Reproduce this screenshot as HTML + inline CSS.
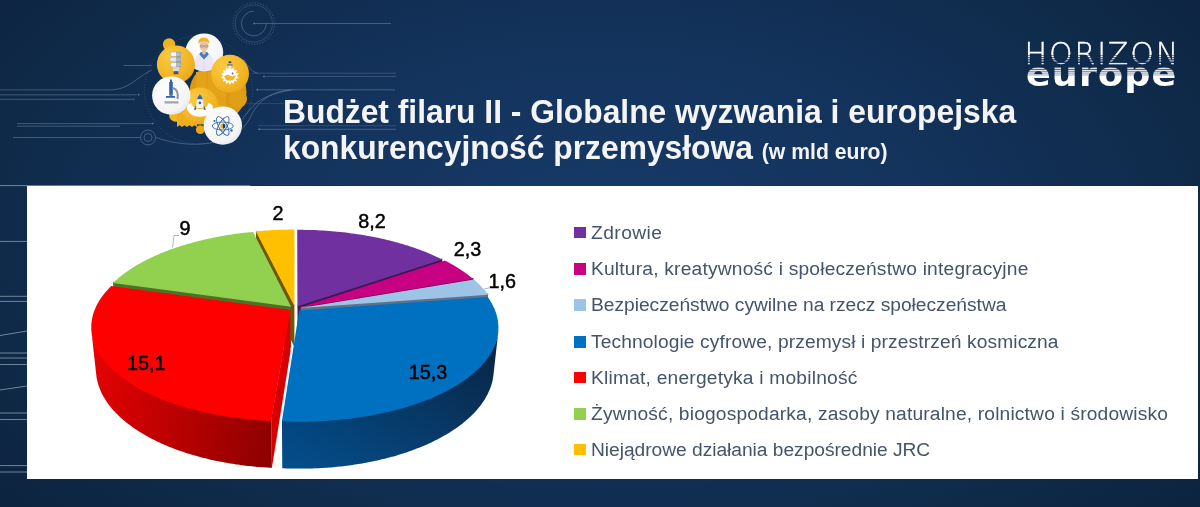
<!DOCTYPE html>
<html lang="pl"><head><meta charset="utf-8"><title>Budżet filaru II</title>
<style>
html,body{margin:0;padding:0}
body{width:1200px;height:507px;overflow:hidden;position:relative;background:#0e2a4c;font-family:"Liberation Sans",sans-serif}
#bg{position:absolute;left:0;top:0;width:1200px;height:507px;background:radial-gradient(ellipse 760px 420px at 600px 230px,#173a68 0%,#13335c 45%,#0f2a49 80%,#0d2440 100%)}
#panel{position:absolute;left:27px;top:186px;width:1171px;height:293px;background:#fff}
h1{position:absolute;left:283.1px;top:94.2px;margin:0;font-size:33.8px;line-height:35.4px;transform:scaleX(0.9406);transform-origin:0 0;font-weight:bold;color:#f4f4f4;white-space:nowrap;letter-spacing:0}
h1 small{font-size:22.5px}
.sq{position:absolute;left:573.8px;width:12.1px;height:11.8px}
.lg{position:absolute;left:591px;font-size:19.2px;line-height:20px;color:#44546A;white-space:nowrap}
svg{position:absolute;left:0;top:0}
#hz{position:absolute;left:1024.6px;top:36px;font-family:"DejaVu Sans Light","DejaVu Sans","Liberation Sans",sans-serif;font-weight:200;font-size:30px;line-height:36px;color:#fff;-webkit-text-stroke:0.35px #fff;letter-spacing:1.85px;white-space:nowrap}
#eu{position:absolute;left:1026px;top:52px;transform:scaleY(0.94);transform-origin:0 34px;font-family:"DejaVu Sans","Liberation Sans",sans-serif;font-weight:bold;font-size:36.5px;line-height:44px;color:#fff;letter-spacing:1.1px;white-space:nowrap}
#lab text{font-family:"Liberation Sans",sans-serif;font-size:19.8px;fill:#000;stroke:#000;stroke-width:0.45px}
</style></head><body>
<div id="bg"></div>
<svg id="decor" width="1200" height="507" viewBox="0 0 1200 507">
<defs><radialGradient id="gold" cx="0.35" cy="0.3" r="0.9"><stop offset="0" stop-color="#fbca42"/><stop offset="0.6" stop-color="#f2b424"/><stop offset="1" stop-color="#e49f14"/></radialGradient><radialGradient id="wht" cx="0.4" cy="0.35" r="0.8"><stop offset="0" stop-color="#ffffff"/><stop offset="0.7" stop-color="#f4f4f6"/><stop offset="1" stop-color="#d8dae0"/></radialGradient></defs>
<g fill="none" stroke="#b9c7dc" stroke-width="0.7" opacity="0.43">
<line x1="253.500" y1="23.500" x2="391" y2="23.500"/>
<line x1="252.500" y1="73.200" x2="396" y2="73.200" opacity="0.700"/>
<line x1="263.500" y1="76.500" x2="396" y2="76.500" opacity="0.700"/>
<line x1="256.600" y1="89.800" x2="395" y2="89.800"/>
<line x1="246" y1="103.600" x2="284" y2="103.600" opacity="0.500"/>
<line x1="258" y1="125.700" x2="396" y2="125.700" opacity="0.600"/>
<line x1="258" y1="129.300" x2="396" y2="129.300"/>
<line x1="123.6" y1="65.5" x2="151.7" y2="65.5"/>
<path d="M0,89.9 H112 C130,89 138,76 152,70"/>
<line x1="0" y1="94.8" x2="137" y2="94.8" opacity="1.5"/>
<line x1="0" y1="99.3" x2="135" y2="99.3"/>
<line x1="17" y1="123.6" x2="153.6" y2="123.6"/>
<line x1="17" y1="126.2" x2="120" y2="126.2"/>
<line x1="13" y1="137.5" x2="140.4" y2="137.5"/>
<path d="M156,137.500 C190,150 236,146 250,118 C256,104 268,92 290,89.900"/>
<path d="M240,121.500 C250,112 252,96 292.500,89.800"/>
<path d="M244,60 C249,67 252,72.500 258,73.200"/>
<circle cx="253.800" cy="23.500" r="20.700" stroke-dasharray="1.2 1.6"/><circle cx="253.800" cy="23.500" r="18.600" opacity="0.600"/>
<path d="M253.800,11.100 a12.400,12.400 0 1 0 12.400,12.400"/>
<circle cx="148" cy="137.500" r="7.500"/>
<circle cx="148" cy="137.500" r="4"/>
<circle cx="198.500" cy="90" r="54" stroke-dasharray="1 2" opacity="0.7"/>
<path d="M138,93.600 l2,1.200 -2,1.200z M152,122.400 l2,1.200 -2,1.200z M255,22.300 l-2,1.200 2,1.200z M264.500,75.300 l-2,1.200 2,1.200z M258,88.600 l-2,1.200 2,1.200z M260,128.100 l-2,1.200 2,1.200z" fill="#b9c7dc" stroke="none"/>
</g>
<g fill="none" stroke="#c5d0e0" stroke-width="0.9" opacity="0.6">
<line x1="0" y1="241.4" x2="27" y2="241.4"/>
<line x1="0" y1="296.3" x2="27" y2="296.3"/>
<line x1="0" y1="301.4" x2="27" y2="301.4"/>
<line x1="0" y1="335.5" x2="27" y2="331.0"/>
<line x1="0" y1="353.0" x2="27" y2="353.0"/>
<line x1="0" y1="358.0" x2="27" y2="358.0"/>
<line x1="0" y1="364.5" x2="27" y2="364.5"/>
<line x1="0" y1="390.0" x2="27" y2="386.0"/>
<line x1="0" y1="413.0" x2="27" y2="413.0"/>
<line x1="0" y1="419.5" x2="27" y2="419.5"/>
<line x1="0" y1="465.6" x2="27" y2="465.6"/>
<line x1="0" y1="472.0" x2="27" y2="472.0"/>
<line x1="0" y1="185.6" x2="250" y2="185.6"/>
</g>
<g>
<circle cx="218" cy="92" r="28.500" fill="#dd9912"/>
<circle cx="238" cy="99" r="9" fill="#e0a016"/>
<path d="M196,72 h30 v40 h-30z" fill="#e3a218"/>
<path d="M207,70 v38" stroke="#c98a0c" stroke-width="0.600" opacity="0.500"/>
<circle cx="169.100" cy="44.500" r="6.200" fill="#f0b222"/>
<circle cx="175.900" cy="114.900" r="6.800" fill="#f2b524"/>
<path d="M177,112 h20 v15 l-2.500,-1.800 -2.500,1.800 -2.500,-1.800 -2.500,1.800 -2.500,-1.800 -2.500,1.800 -2.500,-1.800 -2.500,1.800z" fill="#eeae1e"/>
<circle cx="200.300" cy="129.700" r="4.400" fill="#e9a818"/>
<circle cx="204.200" cy="52.400" r="19" fill="url(#wht)"/>
<clipPath id="csci"><circle cx="204.200" cy="52.400" r="18.600"/></clipPath>
<g clip-path="url(#csci)">
<path d="M194,72 q-0.500,-15 4.500,-17.500 l5.500,-1.500 5.500,1.500 q5,2.500 4.500,17.500z" fill="#ece6f4"/>
<path d="M204,54 v18" stroke="#d9d2e6" stroke-width="0.600"/>
<path d="M199.200,54.300 l4.800,5.200 4.800,-5.200 -1.600,-2.300 h-6.400z" fill="#3f7ccb"/>
<path d="M202.200,49 h3.600 v4.500 l-1.800,1.500 -1.800,-1.500z" fill="#e8bd98"/>
<ellipse cx="204" cy="45.800" rx="4.500" ry="5.400" fill="#eec6a4"/>
<path d="M198.300,44.300 q-0.800,-6.600 5.200,-6.900 q5.800,0 5.800,6.400 q-2.600,-3.300 -6.600,-2.600 q-3,0.500 -4.400,3.100z" fill="#f0b323"/>
<path d="M200,46 h8.200" stroke="#8a8f9c" stroke-width="0.700"/><circle cx="202" cy="46.300" r="1.500" fill="none" stroke="#8a8f9c" stroke-width="0.500"/><circle cx="206.200" cy="46.300" r="1.500" fill="none" stroke="#8a8f9c" stroke-width="0.500"/>
</g>
<circle cx="175.9" cy="64.4" r="19" fill="url(#gold)"/>
<circle cx="230" cy="73.800" r="19" fill="url(#gold)"/>
<circle cx="199.9" cy="106.1" r="18.5" fill="url(#gold)"/>
<circle cx="171.3" cy="95.6" r="19.2" fill="url(#wht)"/>
<circle cx="222.8" cy="125.6" r="19.2" fill="url(#wht)"/>
<g stroke="#8b95a0" stroke-width="0.400"><rect x="170.200" y="52" width="11" height="4.600" rx="2.300" fill="#f4f5f6"/><rect x="169.600" y="57.200" width="12" height="4.600" rx="2.300" fill="#e6e8ea"/><rect x="170.200" y="62.400" width="11" height="4.600" rx="2.300" fill="#f4f5f6"/></g>
<rect x="176" y="52" width="5" height="15" fill="#7e8994" opacity="0.550"/>
<rect x="173" y="67.200" width="6" height="4" fill="#d5d8dc"/><rect x="173.600" y="71.200" width="4.800" height="3" fill="#4a5560"/>
<polygon points="229.9,66.7 231.4,69.3 233.8,67.6 234.1,70.6 237.0,70.1 235.9,72.9 238.8,73.8 236.6,75.8 238.8,77.8 235.9,78.7 237.0,81.5 234.1,81.0 233.8,84.0 231.4,82.3 229.9,84.9 228.4,82.3 226.0,84.0 225.7,81.0 222.8,81.5 223.9,78.7 221.0,77.8 223.2,75.8 221.0,73.8 223.9,72.9 222.8,70.1 225.7,70.6 226.0,67.6 228.4,69.3" fill="#ffffff"/>
<rect x="228.500" y="64.800" width="2.800" height="4.500" fill="#e6e9ee"/><rect x="227.300" y="64.300" width="5.200" height="1.300" fill="#5c6f8c"/><ellipse cx="229.900" cy="62.300" rx="1.600" ry="1" fill="#2c456e"/>
<path d="M224.300,76.200 q2.500,-2.600 5.600,-0.800 q3,1.700 5.800,-0.300 q-0.500,5.600 -5.800,5.700 q-5.200,-0.100 -5.600,-4.600z" fill="#f4b624"/>
<circle cx="232.600" cy="73.600" r="1" fill="#3d6fb6"/>
<g><rect x="169.200" y="82" width="3.600" height="13" fill="#2f66ae"/><rect x="170" y="79.500" width="2" height="3" fill="#2f66ae"/><path d="M173,88 q6,2 4.500,11" fill="none" stroke="#8d98a6" stroke-width="2"/><rect x="166" y="96" width="9" height="1.800" fill="#2f66ae"/><path d="M164.500,103.500 h14 v-2.200 h-14z" fill="#9aa3ae"/><rect x="169.500" y="94" width="3" height="2" fill="#6d7885"/></g>
<g transform="translate(199.9,106.1) scale(1.25) translate(-202,-106.5)"><path d="M192,110 q-1.500,-5 3,-6 q2,5 7,5 q5,0 7,-5 q4.500,1 3,6 q-3,5 -10,5 q-7,0 -10,-5z" fill="#fff"/><path d="M202,97 q3.200,3.500 3,11 h-6 q-0.200,-7.500 3,-11z" fill="#f2f4f8"/><path d="M202,97 q1.600,1.600 2.300,4 h-4.600 q0.700,-2.400 2.300,-4z" fill="#2f66ae"/><circle cx="202" cy="104" r="1.100" fill="#2f66ae"/><path d="M199,106 l-2,3.500 h2z M205,106 l2,3.500 h-2z" fill="#2f66ae"/></g>
<g fill="none" stroke="#2f66ae" stroke-width="0.9"><ellipse cx="222.8" cy="126" rx="10.500" ry="4"/><ellipse cx="222.8" cy="126" rx="10.500" ry="4" transform="rotate(60 222.8 126)"/><ellipse cx="222.8" cy="126" rx="10.500" ry="4" transform="rotate(-60 222.8 126)"/></g>
<circle cx="222.8" cy="126" r="2.600" fill="#f3b521"/><path d="M222.8,123.400 a2.600,2.600 0 0 1 0,5.200z" fill="#1f3e6e"/>
<circle cx="231.500" cy="130.500" r="1.200" fill="#2f66ae"/><circle cx="214.500" cy="121" r="1.100" fill="#2f66ae"/>
</g>
</svg>
<div id="panel"></div>
<h1>Budżet filaru II - Globalne wyzwania i europejska<br>konkurencyjność przemysłowa <small>(w mld euro)</small></h1>
<svg id="pie" width="1200" height="507" viewBox="0 0 1200 507">
<linearGradient id="vshade3" x1="0" y1="0" x2="0" y2="1"><stop offset="0" stop-color="#000" stop-opacity="0.16"/><stop offset="1" stop-color="#1080e0" stop-opacity="0.18"/></linearGradient><linearGradient id="vshade4" x1="0" y1="0" x2="0" y2="1"><stop offset="0" stop-color="#ff2020" stop-opacity="0.12"/><stop offset="1" stop-color="#000" stop-opacity="0.06"/></linearGradient>
<polygon points="294.4,304.7 255.9,230.2 256.6,267.9 294.4,347.0" fill="#6f5800"/>
<polygon points="294.4,304.7 294.5,228.5 294.5,266.0 294.4,347.0" fill="#8c6a00"/>
<polygon points="294.4,306.0 255.9,231.4 258.8,231.1 261.8,230.9 264.7,230.6 267.7,230.4 270.6,230.2 273.6,230.1 276.6,229.9 279.6,229.8 282.5,229.7 285.5,229.7 288.5,229.6 291.5,229.6 294.5,229.6" fill="#FFC000"/>
<polygon points="297.6,305.0 297.2,228.7 297.2,266.2 297.6,347.3" fill="#4a206b"/>
<polygon points="297.6,305.0 442.4,258.4 439.3,297.8 297.6,347.3" fill="#3a1a55"/>
<polygon points="297.6,306.3 297.2,229.8 300.1,229.8 303.0,229.8 305.9,229.9 308.8,229.9 311.7,230.0 314.6,230.1 317.5,230.3 320.3,230.4 323.2,230.6 326.1,230.8 328.9,231.0 331.8,231.2 334.7,231.5 337.5,231.7 340.3,232.0 343.2,232.3 346.0,232.6 348.8,233.0 351.6,233.4 354.4,233.8 357.2,234.2 360.0,234.6 362.8,235.0 365.5,235.5 368.3,236.0 371.0,236.5 373.7,237.0 376.4,237.6 379.1,238.1 381.8,238.7 384.5,239.3 387.1,239.9 389.7,240.6 392.4,241.3 395.0,241.9 397.5,242.6 400.1,243.4 402.6,244.1 405.2,244.9 407.7,245.6 410.1,246.4 412.6,247.3 415.0,248.1 417.4,248.9 419.8,249.8 422.2,250.7 424.5,251.6 426.9,252.6 429.1,253.5 431.4,254.5 433.6,255.5 435.8,256.5 438.0,257.5 440.2,258.5 442.3,259.6" fill="#7030A0"/>
<polygon points="300.0,306.1 473.5,277.9 469.6,318.5 299.9,348.5" fill="#6a0045"/>
<polygon points="300.0,307.4 444.8,260.5 446.9,261.6 449.1,262.8 451.2,263.9 453.2,265.1 455.2,266.3 457.2,267.5 459.2,268.7 461.1,269.9 463.0,271.2 464.8,272.5 466.6,273.8 468.3,275.1 470.0,276.4 471.7,277.7 473.3,279.1" fill="#C80082"/>
<polygon points="300.5,306.7 488.3,293.6 484.0,335.1 300.4,349.1" fill="#5f7288"/>
<polygon points="300.5,308.0 474.0,279.6 475.6,281.1 477.2,282.5 478.8,284.0 480.3,285.5 481.7,287.0 483.1,288.5 484.5,290.1 485.8,291.6 487.0,293.2 488.2,294.8" fill="#9DC3E6"/>
<polygon points="291.1,305.4 112.9,281.8 116.9,322.7 291.2,347.7" fill="#4e7028"/>
<polygon points="291.1,306.7 113.0,283.0 114.5,281.6 115.9,280.3 117.5,278.9 119.0,277.6 120.7,276.3 122.3,275.0 124.0,273.7 125.7,272.4 127.5,271.2 129.3,269.9 131.2,268.7 133.0,267.5 135.0,266.3 136.9,265.1 138.9,264.0 140.9,262.9 143.0,261.8 145.1,260.7 147.2,259.6 149.3,258.5 151.5,257.5 153.7,256.4 155.9,255.4 158.2,254.5 160.5,253.5 162.8,252.5 165.2,251.6 167.5,250.7 169.9,249.8 172.3,248.9 174.8,248.1 177.2,247.2 179.7,246.4 182.2,245.6 184.8,244.9 187.3,244.1 189.9,243.4 192.5,242.6 195.1,241.9 197.7,241.3 200.3,240.6 203.0,240.0 205.7,239.3 208.4,238.7 211.1,238.2 213.8,237.6 216.5,237.1 219.3,236.5 222.0,236.0 224.8,235.6 227.6,235.1 230.4,234.7 233.2,234.2 236.0,233.8 238.8,233.5 241.7,233.1 244.5,232.8 247.4,232.5 250.2,232.2 253.1,231.9" fill="#92D050"/>
<linearGradient id="w3" gradientUnits="userSpaceOnUse" x1="281.9" y1="0" x2="498.3" y2="0"><stop offset="0" stop-color="#00447c"/><stop offset="1" stop-color="#0a2a4e"/></linearGradient>
<polygon points="498.3,331.4 498.1,332.3 498.0,333.1 497.9,334.0 497.7,334.8 497.6,335.7 497.4,336.5 497.2,337.4 497.0,338.2 496.7,339.1 496.5,339.9 496.2,340.8 495.9,341.6 495.6,342.5 495.3,343.3 494.9,344.2 494.6,345.0 494.2,345.9 493.8,346.7 493.4,347.6 493.0,348.4 492.5,349.3 492.1,350.1 491.6,351.0 491.1,351.8 490.6,352.7 490.1,353.5 489.5,354.4 488.9,355.2 488.4,356.1 487.8,356.9 487.1,357.7 486.5,358.6 485.9,359.4 485.2,360.2 484.5,361.1 483.8,361.9 483.1,362.7 482.3,363.6 481.6,364.4 480.8,365.2 480.0,366.0 479.2,366.8 478.3,367.7 477.5,368.5 476.6,369.3 475.7,370.1 474.8,370.9 473.9,371.7 473.0,372.5 472.0,373.3 471.1,374.1 470.1,374.9 469.1,375.6 468.0,376.4 467.0,377.2 465.9,378.0 464.8,378.7 463.8,379.5 462.6,380.3 461.5,381.0 460.4,381.8 459.2,382.5 458.0,383.3 456.8,384.0 455.6,384.7 454.4,385.5 453.1,386.2 451.9,386.9 450.6,387.6 449.3,388.3 448.0,389.0 446.6,389.7 445.3,390.4 443.9,391.1 442.6,391.8 441.2,392.4 439.7,393.1 438.3,393.8 436.9,394.4 435.4,395.1 433.9,395.7 432.5,396.4 431.0,397.0 429.4,397.6 427.9,398.2 426.4,398.8 424.8,399.4 423.2,400.0 421.6,400.6 420.0,401.2 418.4,401.8 416.8,402.3 415.1,402.9 413.5,403.5 411.8,404.0 410.1,404.5 408.4,405.1 406.7,405.6 405.0,406.1 403.2,406.6 401.5,407.1 399.7,407.6 397.9,408.1 396.1,408.6 394.3,409.0 392.5,409.5 390.7,409.9 388.9,410.4 387.0,410.8 385.2,411.2 383.3,411.6 381.4,412.0 379.5,412.4 377.7,412.8 375.8,413.2 373.8,413.6 371.9,413.9 370.0,414.3 368.0,414.6 366.1,414.9 364.1,415.3 362.2,415.6 360.2,415.9 358.2,416.2 356.2,416.4 354.2,416.7 352.2,417.0 350.2,417.2 348.2,417.5 346.2,417.7 344.2,417.9 342.1,418.1 340.1,418.3 338.0,418.5 336.0,418.7 333.9,418.9 331.9,419.1 329.8,419.2 327.8,419.4 325.7,419.5 323.6,419.6 321.5,419.7 319.5,419.8 317.4,419.9 315.3,420.0 313.2,420.1 311.1,420.1 309.0,420.2 307.0,420.2 304.9,420.2 302.8,420.3 300.7,420.3 298.6,420.3 296.5,420.3 294.4,420.2 292.3,420.2 290.2,420.2 288.1,420.1 286.1,420.0 284.0,420.0 281.9,419.9 282.3,468.2 284.3,468.3 286.3,468.4 288.3,468.5 290.4,468.5 292.4,468.6 294.4,468.6 296.5,468.6 298.5,468.6 300.5,468.6 302.6,468.6 304.6,468.6 306.6,468.6 308.7,468.5 310.7,468.5 312.7,468.4 314.7,468.3 316.8,468.3 318.8,468.2 320.8,468.1 322.8,467.9 324.8,467.8 326.9,467.7 328.9,467.5 330.9,467.4 332.9,467.2 334.9,467.0 336.9,466.8 338.8,466.6 340.8,466.4 342.8,466.2 344.8,466.0 346.7,465.7 348.7,465.5 350.6,465.2 352.6,464.9 354.5,464.6 356.5,464.3 358.4,464.0 360.3,463.7 362.2,463.4 364.1,463.0 366.0,462.7 367.9,462.3 369.8,462.0 371.7,461.6 373.5,461.2 375.4,460.8 377.2,460.4 379.1,460.0 380.9,459.6 382.7,459.1 384.5,458.7 386.3,458.3 388.1,457.8 389.9,457.3 391.6,456.8 393.4,456.4 395.1,455.9 396.8,455.4 398.6,454.8 400.3,454.3 402.0,453.8 403.6,453.3 405.3,452.7 407.0,452.2 408.6,451.6 410.2,451.0 411.9,450.4 413.5,449.8 415.1,449.3 416.6,448.6 418.2,448.0 419.8,447.4 421.3,446.8 422.8,446.2 424.3,445.5 425.8,444.9 427.3,444.2 428.8,443.6 430.2,442.9 431.7,442.2 433.1,441.5 434.5,440.8 435.9,440.1 437.3,439.4 438.6,438.7 440.0,438.0 441.3,437.3 442.6,436.6 443.9,435.8 445.2,435.1 446.5,434.4 447.7,433.6 449.0,432.9 450.2,432.1 451.4,431.3 452.6,430.6 453.7,429.8 454.9,429.0 456.0,428.2 457.2,427.4 458.3,426.6 459.4,425.8 460.4,425.0 461.5,424.2 462.5,423.4 463.5,422.6 464.6,421.8 465.5,421.0 466.5,420.1 467.5,419.3 468.4,418.5 469.3,417.6 470.2,416.8 471.1,415.9 472.0,415.1 472.8,414.2 473.7,413.4 474.5,412.5 475.3,411.7 476.1,410.8 476.8,409.9 477.6,409.1 478.3,408.2 479.0,407.3 479.7,406.5 480.4,405.6 481.1,404.7 481.7,403.8 482.3,402.9 482.9,402.1 483.5,401.2 484.1,400.3 484.7,399.4 485.2,398.5 485.7,397.6 486.2,396.7 486.7,395.8 487.2,394.9 487.7,394.0 488.1,393.1 488.5,392.2 488.9,391.3 489.3,390.4 489.7,389.6 490.0,388.7 490.4,387.8 490.7,386.9 491.0,386.0 491.3,385.1 491.6,384.2 491.8,383.3 492.1,382.4 492.3,381.5 492.5,380.6 492.7,379.7 492.9,378.8 493.0,377.9 493.2,377.0 493.3,376.1 493.4,375.2" fill="url(#w3)"/>
<polygon points="498.3,331.4 498.1,332.3 498.0,333.1 497.9,334.0 497.7,334.8 497.6,335.7 497.4,336.5 497.2,337.4 497.0,338.2 496.7,339.1 496.5,339.9 496.2,340.8 495.9,341.6 495.6,342.5 495.3,343.3 494.9,344.2 494.6,345.0 494.2,345.9 493.8,346.7 493.4,347.6 493.0,348.4 492.5,349.3 492.1,350.1 491.6,351.0 491.1,351.8 490.6,352.7 490.1,353.5 489.5,354.4 488.9,355.2 488.4,356.1 487.8,356.9 487.1,357.7 486.5,358.6 485.9,359.4 485.2,360.2 484.5,361.1 483.8,361.9 483.1,362.7 482.3,363.6 481.6,364.4 480.8,365.2 480.0,366.0 479.2,366.8 478.3,367.7 477.5,368.5 476.6,369.3 475.7,370.1 474.8,370.9 473.9,371.7 473.0,372.5 472.0,373.3 471.1,374.1 470.1,374.9 469.1,375.6 468.0,376.4 467.0,377.2 465.9,378.0 464.8,378.7 463.8,379.5 462.6,380.3 461.5,381.0 460.4,381.8 459.2,382.5 458.0,383.3 456.8,384.0 455.6,384.7 454.4,385.5 453.1,386.2 451.9,386.9 450.6,387.6 449.3,388.3 448.0,389.0 446.6,389.7 445.3,390.4 443.9,391.1 442.6,391.8 441.2,392.4 439.7,393.1 438.3,393.8 436.9,394.4 435.4,395.1 433.9,395.7 432.5,396.4 431.0,397.0 429.4,397.6 427.9,398.2 426.4,398.8 424.8,399.4 423.2,400.0 421.6,400.6 420.0,401.2 418.4,401.8 416.8,402.3 415.1,402.9 413.5,403.5 411.8,404.0 410.1,404.5 408.4,405.1 406.7,405.6 405.0,406.1 403.2,406.6 401.5,407.1 399.7,407.6 397.9,408.1 396.1,408.6 394.3,409.0 392.5,409.5 390.7,409.9 388.9,410.4 387.0,410.8 385.2,411.2 383.3,411.6 381.4,412.0 379.5,412.4 377.7,412.8 375.8,413.2 373.8,413.6 371.9,413.9 370.0,414.3 368.0,414.6 366.1,414.9 364.1,415.3 362.2,415.6 360.2,415.9 358.2,416.2 356.2,416.4 354.2,416.7 352.2,417.0 350.2,417.2 348.2,417.5 346.2,417.7 344.2,417.9 342.1,418.1 340.1,418.3 338.0,418.5 336.0,418.7 333.9,418.9 331.9,419.1 329.8,419.2 327.8,419.4 325.7,419.5 323.6,419.6 321.5,419.7 319.5,419.8 317.4,419.9 315.3,420.0 313.2,420.1 311.1,420.1 309.0,420.2 307.0,420.2 304.9,420.2 302.8,420.3 300.7,420.3 298.6,420.3 296.5,420.3 294.4,420.2 292.3,420.2 290.2,420.2 288.1,420.1 286.1,420.0 284.0,420.0 281.9,419.9 282.3,468.2 284.3,468.3 286.3,468.4 288.3,468.5 290.4,468.5 292.4,468.6 294.4,468.6 296.5,468.6 298.5,468.6 300.5,468.6 302.6,468.6 304.6,468.6 306.6,468.6 308.7,468.5 310.7,468.5 312.7,468.4 314.7,468.3 316.8,468.3 318.8,468.2 320.8,468.1 322.8,467.9 324.8,467.8 326.9,467.7 328.9,467.5 330.9,467.4 332.9,467.2 334.9,467.0 336.9,466.8 338.8,466.6 340.8,466.4 342.8,466.2 344.8,466.0 346.7,465.7 348.7,465.5 350.6,465.2 352.6,464.9 354.5,464.6 356.5,464.3 358.4,464.0 360.3,463.7 362.2,463.4 364.1,463.0 366.0,462.7 367.9,462.3 369.8,462.0 371.7,461.6 373.5,461.2 375.4,460.8 377.2,460.4 379.1,460.0 380.9,459.6 382.7,459.1 384.5,458.7 386.3,458.3 388.1,457.8 389.9,457.3 391.6,456.8 393.4,456.4 395.1,455.9 396.8,455.4 398.6,454.8 400.3,454.3 402.0,453.8 403.6,453.3 405.3,452.7 407.0,452.2 408.6,451.6 410.2,451.0 411.9,450.4 413.5,449.8 415.1,449.3 416.6,448.6 418.2,448.0 419.8,447.4 421.3,446.8 422.8,446.2 424.3,445.5 425.8,444.9 427.3,444.2 428.8,443.6 430.2,442.9 431.7,442.2 433.1,441.5 434.5,440.8 435.9,440.1 437.3,439.4 438.6,438.7 440.0,438.0 441.3,437.3 442.6,436.6 443.9,435.8 445.2,435.1 446.5,434.4 447.7,433.6 449.0,432.9 450.2,432.1 451.4,431.3 452.6,430.6 453.7,429.8 454.9,429.0 456.0,428.2 457.2,427.4 458.3,426.6 459.4,425.8 460.4,425.0 461.5,424.2 462.5,423.4 463.5,422.6 464.6,421.8 465.5,421.0 466.5,420.1 467.5,419.3 468.4,418.5 469.3,417.6 470.2,416.8 471.1,415.9 472.0,415.1 472.8,414.2 473.7,413.4 474.5,412.5 475.3,411.7 476.1,410.8 476.8,409.9 477.6,409.1 478.3,408.2 479.0,407.3 479.7,406.5 480.4,405.6 481.1,404.7 481.7,403.8 482.3,402.9 482.9,402.1 483.5,401.2 484.1,400.3 484.7,399.4 485.2,398.5 485.7,397.6 486.2,396.7 486.7,395.8 487.2,394.9 487.7,394.0 488.1,393.1 488.5,392.2 488.9,391.3 489.3,390.4 489.7,389.6 490.0,388.7 490.4,387.8 490.7,386.9 491.0,386.0 491.3,385.1 491.6,384.2 491.8,383.3 492.1,382.4 492.3,381.5 492.5,380.6 492.7,379.7 492.9,378.8 493.0,377.9 493.2,377.0 493.3,376.1 493.4,375.2" fill="url(#vshade3)"/>
<polygon points="299.2,310.4 487.8,297.1 488.8,298.6 489.8,300.1 490.8,301.7 491.7,303.2 492.5,304.8 493.3,306.4 494.1,308.0 494.8,309.6 495.4,311.2 496.0,312.8 496.5,314.5 496.9,316.1 497.3,317.7 497.7,319.4 497.9,321.1 498.1,322.7 498.3,324.4 498.4,326.1 498.4,327.8 498.4,329.5 498.3,331.2 498.1,332.9 497.9,334.6 497.6,336.3 497.2,338.0 496.7,339.7 496.2,341.5 495.7,343.2 495.0,344.9 494.3,346.6 493.5,348.3 492.7,350.0 491.8,351.7 490.8,353.5 489.7,355.2 488.6,356.9 487.4,358.6 486.1,360.2 484.8,361.9 483.4,363.6 481.9,365.3 480.3,366.9 478.7,368.6 477.0,370.2 475.2,371.8 473.4,373.4 471.4,375.0 469.5,376.6 467.4,378.2 465.3,379.7 463.1,381.3 460.8,382.8 458.5,384.3 456.1,385.8 453.6,387.2 451.0,388.7 448.4,390.1 445.8,391.5 443.0,392.9 440.2,394.2 437.3,395.6 434.4,396.9 431.4,398.2 428.4,399.4 425.3,400.6 422.1,401.8 418.9,403.0 415.6,404.1 412.2,405.3 408.8,406.3 405.4,407.4 401.9,408.4 398.3,409.4 394.8,410.3 391.1,411.2 387.4,412.1 383.7,413.0 379.9,413.8 376.1,414.5 372.3,415.3 368.4,416.0 364.5,416.6 360.5,417.3 356.5,417.8 352.5,418.4 348.5,418.9 344.4,419.3 340.3,419.8 336.2,420.1 332.1,420.5 328.0,420.8 323.8,421.0 319.6,421.3 315.5,421.4 311.3,421.6 307.1,421.7 302.9,421.7 298.7,421.7 294.5,421.7 290.3,421.6 286.1,421.5 281.9,421.3" fill="#0070C0"/>
<polygon points="290.4,308.8 271.2,419.4 271.9,467.8 290.5,351.3" fill="#d60000"/>
<linearGradient id="w4" gradientUnits="userSpaceOnUse" x1="91.4" y1="0" x2="271.9" y2="0"><stop offset="0" stop-color="#ea0000"/><stop offset="1" stop-color="#960000"/></linearGradient>
<polygon points="271.2,419.4 269.1,419.4 267.1,419.2 265.0,419.1 262.9,419.0 260.9,418.9 258.8,418.7 256.8,418.6 254.7,418.4 252.7,418.2 250.6,418.0 248.6,417.8 246.6,417.6 244.6,417.4 242.5,417.2 240.5,417.0 238.5,416.7 236.5,416.5 234.5,416.2 232.6,415.9 230.6,415.6 228.6,415.3 226.6,415.0 224.7,414.7 222.7,414.4 220.8,414.1 218.9,413.7 217.0,413.4 215.0,413.0 213.1,412.7 211.2,412.3 209.4,411.9 207.5,411.5 205.6,411.1 203.8,410.7 201.9,410.3 200.1,409.8 198.3,409.4 196.5,408.9 194.7,408.5 192.9,408.0 191.1,407.5 189.3,407.1 187.6,406.6 185.8,406.1 184.1,405.6 182.4,405.0 180.7,404.5 179.0,404.0 177.3,403.5 175.7,402.9 174.0,402.4 172.4,401.8 170.7,401.2 169.1,400.7 167.5,400.1 166.0,399.5 164.4,398.9 162.8,398.3 161.3,397.7 159.8,397.1 158.3,396.5 156.8,395.8 155.3,395.2 153.8,394.5 152.4,393.9 151.0,393.2 149.5,392.6 148.1,391.9 146.8,391.2 145.4,390.6 144.0,389.9 142.7,389.2 141.4,388.5 140.1,387.8 138.8,387.1 137.5,386.4 136.2,385.7 135.0,385.0 133.8,384.2 132.6,383.5 131.4,382.8 130.2,382.0 129.1,381.3 127.9,380.5 126.8,379.8 125.7,379.0 124.6,378.3 123.5,377.5 122.5,376.7 121.4,376.0 120.4,375.2 119.4,374.4 118.4,373.6 117.5,372.8 116.5,372.0 115.6,371.2 114.7,370.5 113.8,369.7 112.9,368.9 112.0,368.0 111.2,367.2 110.4,366.4 109.6,365.6 108.8,364.8 108.0,364.0 107.2,363.2 106.5,362.3 105.8,361.5 105.1,360.7 104.4,359.9 103.7,359.0 103.1,358.2 102.4,357.4 101.8,356.5 101.2,355.7 100.7,354.8 100.1,354.0 99.6,353.2 99.0,352.3 98.5,351.5 98.0,350.6 97.5,349.8 97.1,348.9 96.6,348.1 96.2,347.3 95.8,346.4 95.4,345.6 95.1,344.7 94.7,343.9 94.4,343.0 94.0,342.2 93.7,341.3 93.5,340.5 93.2,339.6 92.9,338.8 92.7,337.9 92.5,337.1 92.3,336.2 92.1,335.4 91.9,334.5 91.8,333.7 91.6,332.8 91.5,332.0 91.4,331.1 96.3,374.9 96.4,375.8 96.5,376.7 96.6,377.6 96.8,378.5 97.0,379.4 97.2,380.3 97.4,381.1 97.6,382.0 97.8,382.9 98.1,383.8 98.4,384.7 98.6,385.6 99.0,386.5 99.3,387.4 99.6,388.3 100.0,389.2 100.3,390.1 100.7,391.0 101.1,391.9 101.5,392.8 102.0,393.7 102.4,394.6 102.9,395.5 103.4,396.4 103.9,397.2 104.4,398.1 105.0,399.0 105.5,399.9 106.1,400.8 106.7,401.7 107.3,402.5 107.9,403.4 108.5,404.3 109.2,405.2 109.9,406.0 110.6,406.9 111.3,407.8 112.0,408.7 112.7,409.5 113.5,410.4 114.3,411.2 115.1,412.1 115.9,412.9 116.7,413.8 117.6,414.6 118.4,415.5 119.3,416.3 120.2,417.2 121.1,418.0 122.0,418.8 123.0,419.7 124.0,420.5 124.9,421.3 125.9,422.1 127.0,422.9 128.0,423.7 129.0,424.5 130.1,425.3 131.2,426.1 132.3,426.9 133.4,427.7 134.5,428.5 135.7,429.3 136.8,430.1 138.0,430.8 139.2,431.6 140.4,432.3 141.6,433.1 142.9,433.8 144.2,434.6 145.4,435.3 146.7,436.0 148.0,436.8 149.3,437.5 150.7,438.2 152.0,438.9 153.4,439.6 154.8,440.3 156.2,441.0 157.6,441.7 159.0,442.3 160.5,443.0 161.9,443.7 163.4,444.3 164.9,445.0 166.4,445.6 167.9,446.2 169.4,446.9 171.0,447.5 172.5,448.1 174.1,448.7 175.7,449.3 177.3,449.9 178.9,450.4 180.5,451.0 182.1,451.6 183.8,452.1 185.5,452.7 187.1,453.2 188.8,453.8 190.5,454.3 192.2,454.8 193.9,455.3 195.7,455.8 197.4,456.3 199.2,456.8 200.9,457.2 202.7,457.7 204.5,458.1 206.3,458.6 208.1,459.0 209.9,459.4 211.7,459.9 213.5,460.3 215.4,460.7 217.2,461.0 219.1,461.4 221.0,461.8 222.8,462.1 224.7,462.5 226.6,462.8 228.5,463.2 230.4,463.5 232.4,463.8 234.3,464.1 236.2,464.4 238.1,464.6 240.1,464.9 242.0,465.2 244.0,465.4 246.0,465.7 247.9,465.9 249.9,466.1 251.9,466.3 253.8,466.5 255.8,466.7 257.8,466.9 259.8,467.0 261.8,467.2 263.8,467.3 265.8,467.4 267.8,467.6 269.8,467.7 271.9,467.8" fill="url(#w4)"/>
<polygon points="271.2,419.4 269.1,419.4 267.1,419.2 265.0,419.1 262.9,419.0 260.9,418.9 258.8,418.7 256.8,418.6 254.7,418.4 252.7,418.2 250.6,418.0 248.6,417.8 246.6,417.6 244.6,417.4 242.5,417.2 240.5,417.0 238.5,416.7 236.5,416.5 234.5,416.2 232.6,415.9 230.6,415.6 228.6,415.3 226.6,415.0 224.7,414.7 222.7,414.4 220.8,414.1 218.9,413.7 217.0,413.4 215.0,413.0 213.1,412.7 211.2,412.3 209.4,411.9 207.5,411.5 205.6,411.1 203.8,410.7 201.9,410.3 200.1,409.8 198.3,409.4 196.5,408.9 194.7,408.5 192.9,408.0 191.1,407.5 189.3,407.1 187.6,406.6 185.8,406.1 184.1,405.6 182.4,405.0 180.7,404.5 179.0,404.0 177.3,403.5 175.7,402.9 174.0,402.4 172.4,401.8 170.7,401.2 169.1,400.7 167.5,400.1 166.0,399.5 164.4,398.9 162.8,398.3 161.3,397.7 159.8,397.1 158.3,396.5 156.8,395.8 155.3,395.2 153.8,394.5 152.4,393.9 151.0,393.2 149.5,392.6 148.1,391.9 146.8,391.2 145.4,390.6 144.0,389.9 142.7,389.2 141.4,388.5 140.1,387.8 138.8,387.1 137.5,386.4 136.2,385.7 135.0,385.0 133.8,384.2 132.6,383.5 131.4,382.8 130.2,382.0 129.1,381.3 127.9,380.5 126.8,379.8 125.7,379.0 124.6,378.3 123.5,377.5 122.5,376.7 121.4,376.0 120.4,375.2 119.4,374.4 118.4,373.6 117.5,372.8 116.5,372.0 115.6,371.2 114.7,370.5 113.8,369.7 112.9,368.9 112.0,368.0 111.2,367.2 110.4,366.4 109.6,365.6 108.8,364.8 108.0,364.0 107.2,363.2 106.5,362.3 105.8,361.5 105.1,360.7 104.4,359.9 103.7,359.0 103.1,358.2 102.4,357.4 101.8,356.5 101.2,355.7 100.7,354.8 100.1,354.0 99.6,353.2 99.0,352.3 98.5,351.5 98.0,350.6 97.5,349.8 97.1,348.9 96.6,348.1 96.2,347.3 95.8,346.4 95.4,345.6 95.1,344.7 94.7,343.9 94.4,343.0 94.0,342.2 93.7,341.3 93.5,340.5 93.2,339.6 92.9,338.8 92.7,337.9 92.5,337.1 92.3,336.2 92.1,335.4 91.9,334.5 91.8,333.7 91.6,332.8 91.5,332.0 91.4,331.1 96.3,374.9 96.4,375.8 96.5,376.7 96.6,377.6 96.8,378.5 97.0,379.4 97.2,380.3 97.4,381.1 97.6,382.0 97.8,382.9 98.1,383.8 98.4,384.7 98.6,385.6 99.0,386.5 99.3,387.4 99.6,388.3 100.0,389.2 100.3,390.1 100.7,391.0 101.1,391.9 101.5,392.8 102.0,393.7 102.4,394.6 102.9,395.5 103.4,396.4 103.9,397.2 104.4,398.1 105.0,399.0 105.5,399.9 106.1,400.8 106.7,401.7 107.3,402.5 107.9,403.4 108.5,404.3 109.2,405.2 109.9,406.0 110.6,406.9 111.3,407.8 112.0,408.7 112.7,409.5 113.5,410.4 114.3,411.2 115.1,412.1 115.9,412.9 116.7,413.8 117.6,414.6 118.4,415.5 119.3,416.3 120.2,417.2 121.1,418.0 122.0,418.8 123.0,419.7 124.0,420.5 124.9,421.3 125.9,422.1 127.0,422.9 128.0,423.7 129.0,424.5 130.1,425.3 131.2,426.1 132.3,426.9 133.4,427.7 134.5,428.5 135.7,429.3 136.8,430.1 138.0,430.8 139.2,431.6 140.4,432.3 141.6,433.1 142.9,433.8 144.2,434.6 145.4,435.3 146.7,436.0 148.0,436.8 149.3,437.5 150.7,438.2 152.0,438.9 153.4,439.6 154.8,440.3 156.2,441.0 157.6,441.7 159.0,442.3 160.5,443.0 161.9,443.7 163.4,444.3 164.9,445.0 166.4,445.6 167.9,446.2 169.4,446.9 171.0,447.5 172.5,448.1 174.1,448.7 175.7,449.3 177.3,449.9 178.9,450.4 180.5,451.0 182.1,451.6 183.8,452.1 185.5,452.7 187.1,453.2 188.8,453.8 190.5,454.3 192.2,454.8 193.9,455.3 195.7,455.8 197.4,456.3 199.2,456.8 200.9,457.2 202.7,457.7 204.5,458.1 206.3,458.6 208.1,459.0 209.9,459.4 211.7,459.9 213.5,460.3 215.4,460.7 217.2,461.0 219.1,461.4 221.0,461.8 222.8,462.1 224.7,462.5 226.6,462.8 228.5,463.2 230.4,463.5 232.4,463.8 234.3,464.1 236.2,464.4 238.1,464.6 240.1,464.9 242.0,465.2 244.0,465.4 246.0,465.7 247.9,465.9 249.9,466.1 251.9,466.3 253.8,466.5 255.8,466.7 257.8,466.9 259.8,467.0 261.8,467.2 263.8,467.3 265.8,467.4 267.8,467.6 269.8,467.7 271.9,467.8" fill="url(#vshade4)"/>
<polygon points="290.4,310.1 271.2,420.9 267.1,420.7 262.9,420.4 258.8,420.2 254.7,419.8 250.6,419.5 246.5,419.1 242.4,418.6 238.4,418.1 234.4,417.6 230.4,417.0 226.5,416.4 222.6,415.8 218.7,415.1 214.8,414.4 211.0,413.7 207.3,412.9 203.5,412.0 199.8,411.2 196.2,410.3 192.6,409.3 189.1,408.4 185.5,407.4 182.1,406.4 178.7,405.3 175.3,404.2 172.1,403.1 168.8,401.9 165.6,400.7 162.5,399.5 159.4,398.3 156.4,397.0 153.5,395.8 150.6,394.4 147.8,393.1 145.0,391.7 142.3,390.4 139.7,388.9 137.1,387.5 134.7,386.1 132.2,384.6 129.9,383.1 127.6,381.6 125.4,380.1 123.2,378.5 121.1,377.0 119.1,375.4 117.2,373.8 115.3,372.2 113.5,370.6 111.8,369.0 110.1,367.4 108.5,365.7 107.0,364.1 105.6,362.4 104.2,360.8 102.9,359.1 101.6,357.4 100.5,355.7 99.4,354.0 98.4,352.3 97.4,350.6 96.5,348.9 95.7,347.2 95.0,345.5 94.3,343.8 93.7,342.1 93.2,340.4 92.7,338.7 92.3,337.0 92.0,335.2 91.7,333.5 91.5,331.8 91.3,330.2 91.3,328.5 91.3,326.8 91.3,325.1 91.4,323.4 91.6,321.7 91.8,320.1 92.1,318.4 92.5,316.8 92.9,315.1 93.4,313.5 93.9,311.9 94.5,310.3 95.2,308.7 95.9,307.1 96.6,305.5 97.4,303.9 98.3,302.4 99.2,300.8 100.2,299.3 101.2,297.8 102.3,296.3 103.4,294.8 104.6,293.3 105.8,291.8 107.1,290.4 108.4,289.0 109.8,287.5 111.2,286.1" fill="#FF0000"/>
<g fill="none" stroke="#8ea9d0" stroke-width="0.8"><polyline points="172.5,247.5 174,235.5 179,235.5"/><polyline points="484,289 489,288"/></g>
<g id="lab"><text x="358.2" y="227.5">8,2</text><text x="453.8" y="256.4">2,3</text><text x="488.6" y="288.0">1,6</text><text x="408.8" y="379.3">15,3</text><text x="126.9" y="369.7">15,1</text><text x="179.6" y="234.5">9</text><text x="272.5" y="220.0">2</text></g>
</svg>
<div class="sq" style="top:226.6px;background:#7030A0"></div>
<div class="lg" style="top:222.5px;letter-spacing:0.453px">Zdrowie</div>
<div class="sq" style="top:262.9px;background:#C80082"></div>
<div class="lg" style="top:258.8px;letter-spacing:0.201px">Kultura, kreatywność i społeczeństwo integracyjne</div>
<div class="sq" style="top:299.4px;background:#9DC3E6"></div>
<div class="lg" style="top:295.3px;letter-spacing:-0.011px">Bezpieczeństwo cywilne na rzecz społeczeństwa</div>
<div class="sq" style="top:336.2px;background:#0070C0"></div>
<div class="lg" style="top:332.1px;letter-spacing:0.113px">Technologie cyfrowe, przemysł i przestrzeń kosmiczna</div>
<div class="sq" style="top:371.7px;background:#FF0000"></div>
<div class="lg" style="top:367.6px;letter-spacing:0.212px">Klimat, energetyka i mobilność</div>
<div class="sq" style="top:407.8px;background:#92D050"></div>
<div class="lg" style="top:403.7px;letter-spacing:0.168px">Żywność, biogospodarka, zasoby naturalne, rolnictwo i środowisko</div>
<div class="sq" style="top:443.6px;background:#FFC000"></div>
<div class="lg" style="top:439.5px;letter-spacing:-0.028px">Niejądrowe działania bezpośrednie JRC</div>
<div id="hz">HORIZON</div><div id="eu">europe</div>
<svg id="stripes" width="1200" height="507" viewBox="0 0 1200 507"><g stroke="#0f2c50" fill="none">
<line x1="1024" x2="1178" y1="55.5" y2="55.5" stroke-width="0.5"/>
<line x1="1024" x2="1178" y1="57.5" y2="57.5" stroke-width="0.7"/>
<line x1="1024" x2="1178" y1="59.3" y2="59.3" stroke-width="0.9"/>
<line x1="1024" x2="1178" y1="61.1" y2="61.1" stroke-width="1.0"/>
<line x1="1024" x2="1178" y1="62.6" y2="62.6" stroke-width="1.0"/>
<line x1="1024" x2="1178" y1="66.0" y2="66.0" stroke-width="0.9"/>
<line x1="1024" x2="1178" y1="67.7" y2="67.7" stroke-width="0.8"/>
<line x1="1024" x2="1178" y1="69.5" y2="69.5" stroke-width="0.7"/>
<line x1="1024" x2="1178" y1="71.3" y2="71.3" stroke-width="0.6"/>
<line x1="1024" x2="1178" y1="73.1" y2="73.1" stroke-width="0.5"/>
<line x1="1024" x2="1178" y1="75.0" y2="75.0" stroke-width="0.4"/>
</g></svg>
</body></html>
